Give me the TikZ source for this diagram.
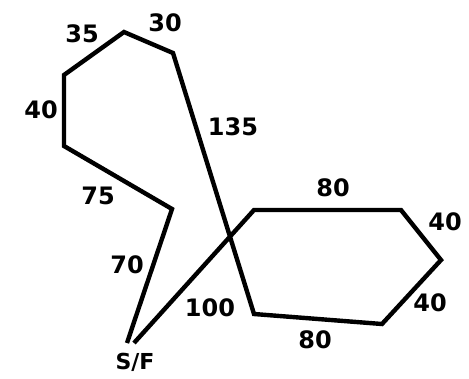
\documentclass[tikz,border=0pt]{standalone}
\usepackage{fontspec}
\setmainfont{DejaVu Sans}
\usepackage{tikz}
\usetikzlibrary{positioning}

\begin{document}
\begin{tikzpicture}[
      x=1pt, y=-1pt,
      route/.style={line width=4.4pt, line join=miter, line cap=butt},
      dist/.style={font=\fontsize{24}{26}\selectfont\bfseries, inner sep=0pt},
    ]
    \useasboundingbox (0,0) rectangle (469,378);

    % corners of the route
    \coordinate (sfa) at (127,343);
    \coordinate (sfb) at (134,343);
    \coordinate (p1) at (172,209);
    \coordinate (p2) at (64,146);
    \coordinate (p3) at (64,75);
    \coordinate (p4) at (124,32);
    \coordinate (p5) at (173,53);
    \coordinate (q1) at (254,314);
    \coordinate (q2) at (382,324);
    \coordinate (q3) at (441,260);
    \coordinate (q4) at (401,210);
    \coordinate (q5) at (254,210);

    % route
    \draw[route] (sfa) -- (p1) -- (p2) -- (p3) -- (p4) -- (p5) -- (q1)
      -- (q2) -- (q3) -- (q4) -- (q5) -- (sfb);

    % start / finish
    \node[dist, font=\fontsize{22}{24}\selectfont\bfseries] (sf) at (135,362) {S/F};

    % distances
    \node[dist] (d70) at (127,265) {70};
    \node[dist] (d75) at (98,196) {75};
    \node[dist] (d40a) at (41,110) {40};
    \node[dist] (d35) at (82,34) {35};
    \node[dist] (d30) at (165,23) {30};
    \node[dist] (d135) at (233,127) {135};
    \node[dist] (d80b) at (315,340) {80};
    \node[dist] (d40c) at (430,303) {40};
    \node[dist] (d40b) at (445,222) {40};
    \node[dist] (d80a) at (333,188) {80};
    \node[dist] (d100) at (210,308) {100};
  \end{tikzpicture}
\end{document}
